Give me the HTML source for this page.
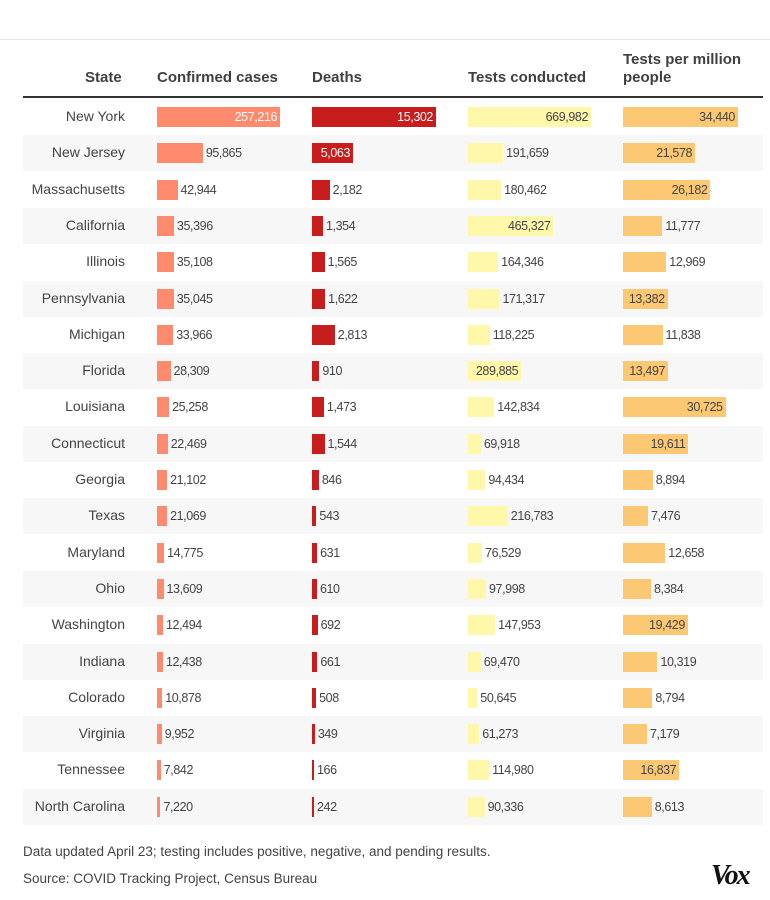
<!DOCTYPE html>
<html><head><meta charset="utf-8">
<style>
body{margin:0;background:#fff;width:770px;height:900px;overflow:hidden;font-family:"Liberation Sans",sans-serif;color:#333;position:relative}
.topline{position:absolute;left:0;top:39px;width:770px;height:1px;background:#e5e5e5}
.h{position:absolute;font-weight:bold;font-size:15px;color:#404040;line-height:18px}
.rule{position:absolute;left:23px;top:96px;width:740px;height:2px;background:#333}
.row{position:absolute;left:23px;width:740px;height:36px}
.st{position:absolute;width:102px;text-align:right;font-size:14px;color:#444}
.bar{position:absolute;height:20px}
.lbl{position:absolute;font-size:12.5px;letter-spacing:-0.4px;line-height:20px;color:#444;white-space:nowrap}
.note{position:absolute;left:23px;font-size:13.5px;color:#444}
</style></head><body>
<div class="topline"></div>
<div class="h" style="left:85px;top:69px">State</div>
<div class="h" style="left:157px;top:69px">Confirmed cases</div>
<div class="h" style="left:312px;top:69px">Deaths</div>
<div class="h" style="left:468px;top:69px">Tests conducted</div>
<div class="h" style="left:623px;top:51px">Tests per million<br>people</div>
<div class="rule"></div>
<div id="table"></div>
<div class="note" style="top:844px">Data updated April 23; testing includes positive, negative, and pending results.</div>
<div class="note" style="top:871px">Source: COVID Tracking Project, Census Bureau</div>
<div style="position:absolute;left:711px;top:860px;font-family:'Liberation Serif',serif;font-weight:bold;font-style:italic;font-size:28px;letter-spacing:-2px;color:#111">Vox</div>
<script>
const states=["New York","New Jersey","Massachusetts","California","Illinois","Pennsylvania","Michigan","Florida","Louisiana","Connecticut","Georgia","Texas","Maryland","Ohio","Washington","Indiana","Colorado","Virginia","Tennessee","North Carolina"];
const confirmed=[257216,95865,42944,35396,35108,35045,33966,28309,25258,22469,21102,21069,14775,13609,12494,12438,10878,9952,7842,7220];
const deaths=[15302,5063,2182,1354,1565,1622,2813,910,1473,1544,846,543,631,610,692,661,508,349,166,242];
const tests=[669982,191659,180462,465327,164346,171317,118225,289885,142834,69918,94434,216783,76529,97998,147953,69470,50645,61273,114980,90336];
const perMillion=[34440,21578,26182,11777,12969,13382,11838,13497,30725,19611,8894,7476,12658,8384,19429,10319,8794,7179,16837,8613];
const cols=[
 {name:"confirmed",vals:confirmed,x:134,w:123,color:"#ff8a6e",inC:"#fff",th:0.5},
 {name:"deaths",vals:deaths,x:289,w:124,color:"#c71e1d",inC:"#fff",th:0.3},
 {name:"tests",vals:tests,x:445,w:123,color:"#fff7aa",inC:"#444",th:0.4},
 {name:"per-million",vals:perMillion,x:600,w:115,color:"#fdc874",inC:"#444",th:0.385}
];
const fmt=v=>v.toLocaleString('en-US');
const tb=document.getElementById('table');
states.forEach((s,i)=>{
  const r=document.createElement('div');
  r.className='row';
  
  
  r.style.top=(99+i*36.3)+'px';
  r.style.background=i%2?'#f7f7f7':'#fff';
  const st=document.createElement('div');
  st.className='st';st.textContent=s;st.style.left='0';st.style.top='9px';
  
  
  r.appendChild(st);
  cols.forEach(c=>{
    const max=Math.max(...c.vals);
    const v=c.vals[i];
    const bw=Math.max(2,v/max*c.w);
    const b=document.createElement('div');
    b.className='bar';
    
    
    b.style.left=c.x+'px';b.style.top='8px';b.style.width=bw+'px';b.style.background=c.color;
    r.appendChild(b);
    const l=document.createElement('div');
    l.className='lbl';l.textContent=fmt(v);l.style.top='8px';
    
    
    if(v/max>=c.th){l.style.right=(740-(c.x+bw)+3)+'px';l.style.color=c.inC;}
    else{l.style.left=(c.x+bw+3)+'px';}
    r.appendChild(l);
  });
  tb.appendChild(r);
});
</script>
</body></html>
